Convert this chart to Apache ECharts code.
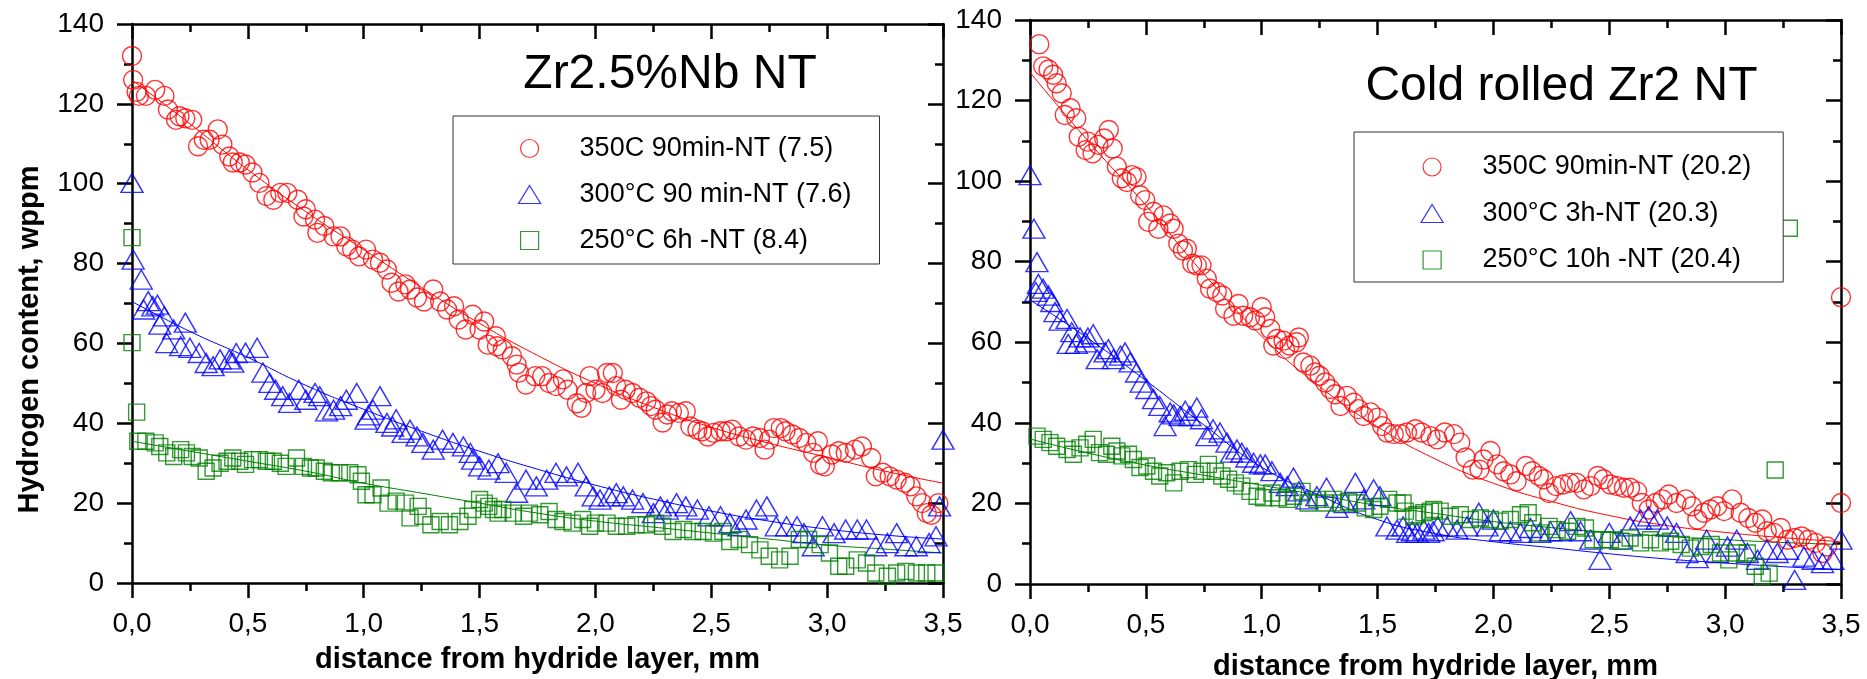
<!DOCTYPE html>
<html><head><meta charset="utf-8">
<script src="https://cdn.jsdelivr.net/npm/echarts@6/dist/echarts.min.js"></script>
<style>html,body{margin:0;padding:0;background:#fff}#c{width:1867px;height:679px}</style>
</head><body><div id="c"></div>
<script>
// ---------- text ----------
const xTickLabels = ['0,0','0,5','1,0','1,5','2,0','2,5','3,0','3,5'];
const yTickLabels = ['0','20','40','60','80','100','120','140'];
const leftTitle = 'Zr2.5%Nb NT';
const rightTitle = 'Cold rolled Zr2 NT';
const xAxisTitle = 'distance from hydride layer, mm';
const yAxisTitle = 'Hydrogen content, wppm';
const leftNames = ['350C 90min-NT (7.5)', '300°C 90 min-NT (7.6)', '250°C 6h -NT (8.4)'];
const rightNames = ['350C 90min-NT (20.2)', '300°C 3h-NT (20.3)', '250°C 10h -NT (20.4)'];

// ---------- data: [distance mm, hydrogen wppm] ----------
const left350 = [[0,132],[0.005,126],[0.02,123],[0.03,122],[0.06,122],[0.1,123.5],[0.14,122],[0.155,118.6],[0.19,116],[0.205,116.9],[0.23,116.4],[0.26,116],[0.285,109.4],[0.31,111],[0.335,111],[0.37,113.6],[0.39,109.8],[0.42,106.8],[0.435,105.3],[0.465,105.3],[0.49,104.8],[0.52,102.8],[0.55,100.2],[0.58,96.9],[0.61,96],[0.64,97.7],[0.67,97.7],[0.715,96],[0.74,91.8],[0.75,93.6],[0.79,91],[0.8,87.7],[0.83,89.4],[0.87,86.8],[0.9,86.8],[0.925,84.3],[0.95,83.5],[0.98,81.8],[1.01,83.5],[1.04,81],[1.07,80.2],[1.1,78.5],[1.12,75.2],[1.15,73],[1.18,74.8],[1.2,73.5],[1.23,71.5],[1.26,70.5],[1.3,73.5],[1.33,70.5],[1.36,68.5],[1.39,69.3],[1.41,66],[1.44,63.5],[1.47,67.2],[1.5,63.5],[1.52,65.5],[1.535,59.7],[1.57,61.8],[1.575,59.3],[1.6,58.5],[1.64,56.8],[1.66,54.7],[1.67,52.7],[1.7,49.7],[1.74,51.8],[1.77,51.8],[1.8,50.1],[1.83,49.3],[1.86,51],[1.88,48.4],[1.92,45],[1.94,43.9],[1.96,47.6],[1.975,51.8],[2.0,48.4],[2.03,47.6],[2.05,52.6],[2.075,52.6],[2.09,49.3],[2.11,45.9],[2.13,48.4],[2.16,47.6],[2.19,46.4],[2.22,45.5],[2.24,44.3],[2.26,43.4],[2.29,40.2],[2.31,42.2],[2.33,43],[2.36,42.6],[2.39,43],[2.41,39.2],[2.44,38.4],[2.46,38],[2.485,36.7],[2.51,37.6],[2.54,38],[2.565,38],[2.59,38.4],[2.62,36.7],[2.65,35.9],[2.68,36.7],[2.71,36.3],[2.73,33.4],[2.75,35.9],[2.77,38.8],[2.8,38.8],[2.82,38],[2.85,37.2],[2.88,36.3],[2.91,35.1],[2.94,32.6],[2.96,35.5],[2.97,29.6],[2.99,29.2],[3.02,32.2],[3.05,33],[3.08,32.6],[3.12,33.4],[3.15,34.2],[3.19,31.3],[3.21,26.7],[3.24,27.6],[3.27,26.7],[3.3,25.9],[3.335,25.1],[3.36,24.2],[3.385,21.7],[3.41,20],[3.43,17.5],[3.45,17.1],[3.48,20]];
const left300 = [[0,100.2],[0.005,81],[0.04,76],[0.05,68.5],[0.07,70.6],[0.09,69.3],[0.11,69.7],[0.12,64.7],[0.14,66.8],[0.15,60.1],[0.18,63.5],[0.21,59.3],[0.23,65.2],[0.25,58.9],[0.29,57.6],[0.32,55.1],[0.35,54.3],[0.38,56],[0.42,56],[0.435,55.2],[0.45,57.6],[0.49,57.7],[0.54,58.9],[0.565,52.7],[0.595,50.1],[0.62,48.4],[0.65,46.8],[0.68,45.1],[0.72,48.4],[0.75,45.9],[0.79,47.6],[0.81,46.8],[0.84,43],[0.87,43.4],[0.9,44.3],[0.925,45.9],[0.97,47.6],[1.01,40.9],[1.02,42],[1.04,43.4],[1.07,46.8],[1.1,40.1],[1.125,39.2],[1.14,41],[1.17,37.6],[1.2,38.4],[1.23,36.7],[1.255,35.1],[1.3,33.4],[1.34,35.9],[1.385,35.1],[1.43,34.2],[1.46,32.6],[1.47,30.9],[1.5,29.2],[1.54,28.4],[1.58,30],[1.615,27.6],[1.66,22.6],[1.7,25.9],[1.745,24.2],[1.79,25.9],[1.83,27.6],[1.875,26.7],[1.925,27.6],[1.96,24.2],[1.99,21.7],[2.02,20.9],[2.06,21.7],[2.09,22.5],[2.12,21.7],[2.16,20.9],[2.205,20],[2.25,17.5],[2.28,19.2],[2.31,18.4],[2.35,20],[2.39,19.2],[2.44,18.4],[2.49,16.7],[2.54,16.7],[2.58,15],[2.62,14.2],[2.65,15.9],[2.695,18.4],[2.74,19.2],[2.78,14.2],[2.825,14.2],[2.87,14.2],[2.9,12.5],[2.94,9.2],[2.98,14.2],[3.03,12.5],[3.08,13.4],[3.13,13.4],[3.17,13.4],[3.21,9.2],[3.26,10],[3.3,12.5],[3.34,9.2],[3.385,9.2],[3.44,10],[3.47,11.7],[3.485,19.2],[3.5,35.9]];
const left250 = [[0,86.5],[0,60.2],[0.02,42.8],[0.025,35.5],[0.06,35.5],[0.1,35.1],[0.12,34.2],[0.15,32.6],[0.18,31.7],[0.21,33.4],[0.235,32.6],[0.26,31.7],[0.29,31.3],[0.32,28],[0.35,28.8],[0.38,30],[0.41,30.5],[0.435,31.3],[0.465,30.5],[0.49,29.7],[0.52,30.9],[0.55,30.9],[0.58,30.5],[0.61,30.5],[0.64,30],[0.665,29.2],[0.71,31.3],[0.74,29.2],[0.77,28.8],[0.795,28.8],[0.83,28],[0.86,27.6],[0.895,27.6],[0.94,27.6],[0.975,27.1],[0.99,25.5],[1.01,22.1],[1.04,22.1],[1.075,23.8],[1.105,20],[1.14,20.5],[1.18,20],[1.2,16.3],[1.235,19.2],[1.255,16.7],[1.29,14.6],[1.33,15.4],[1.37,14.6],[1.415,15.4],[1.45,16.7],[1.47,18.4],[1.5,20.9],[1.52,20],[1.54,19.2],[1.56,18.4],[1.58,17.5],[1.6,18.4],[1.645,17.5],[1.69,16.7],[1.715,17.5],[1.76,17.1],[1.8,17.9],[1.83,15.9],[1.86,15.4],[1.9,15],[1.945,15.9],[1.975,14.2],[2.0,15],[2.05,15],[2.09,14.2],[2.135,14.2],[2.175,14.6],[2.22,14.6],[2.26,15],[2.29,14.2],[2.335,12.9],[2.38,13.4],[2.42,12.9],[2.465,12.9],[2.51,12.5],[2.55,12.9],[2.58,10.4],[2.62,10.9],[2.665,9.6],[2.71,8.3],[2.75,6.7],[2.795,5.8],[2.84,6.7],[2.88,10.9],[2.92,10.9],[2.97,9.6],[3.01,7.5],[3.05,4.2],[3.08,4.2],[3.13,5.8],[3.17,5],[3.21,2.5],[3.26,1.7],[3.3,2.5],[3.34,2.9],[3.385,2.5],[3.43,2.5],[3.47,2.5]];

const right350 = [[0.04,134],[0.057,128.5],[0.08,127.7],[0.1,126.4],[0.115,124.3],[0.137,121.8],[0.15,116.4],[0.175,118.1],[0.2,115.6],[0.21,111],[0.24,107.7],[0.25,109.8],[0.27,106.9],[0.295,109],[0.32,110.6],[0.34,112.7],[0.357,108.1],[0.375,103.6],[0.396,100.7],[0.418,99.8],[0.44,101.5],[0.46,101],[0.475,96.5],[0.497,95.3],[0.51,89.9],[0.533,92.4],[0.554,88.2],[0.576,91.5],[0.605,89.5],[0.62,88.2],[0.64,84.5],[0.66,82.8],[0.677,83.2],[0.7,79.5],[0.72,79.1],[0.74,79.1],[0.763,75.8],[0.777,73.3],[0.806,72.5],[0.83,71.6],[0.842,68.3],[0.878,66.6],[0.9,69.5],[0.92,66.6],[0.95,66.2],[0.972,65.4],[1.0,68.7],[1.015,66.2],[1.037,63.3],[1.05,59.2],[1.066,60.8],[1.094,60.4],[1.1,58.3],[1.12,59.2],[1.15,60],[1.16,61.2],[1.18,55],[1.21,54.2],[1.23,52.5],[1.25,51.7],[1.274,50],[1.296,48.4],[1.317,47.1],[1.34,44.2],[1.368,46.7],[1.397,45],[1.418,43.4],[1.44,41.7],[1.47,42.6],[1.5,41.3],[1.52,39.2],[1.54,37.6],[1.57,37.2],[1.6,37.2],[1.627,37.6],[1.663,38.4],[1.69,37.6],[1.728,36.7],[1.757,35.9],[1.79,37.6],[1.83,37.2],[1.857,35.1],[1.88,31.4],[1.91,28.4],[1.94,28.4],[1.957,30.9],[1.987,33],[2.016,29.7],[2.044,28],[2.073,27.2],[2.1,25.5],[2.14,29.3],[2.167,28],[2.196,26.8],[2.217,26],[2.24,22.6],[2.27,24.3],[2.3,24.7],[2.33,25.1],[2.36,25.1],[2.39,23.5],[2.42,24.3],[2.45,26.8],[2.475,26],[2.505,24.7],[2.534,24.3],[2.563,23.9],[2.59,23.9],[2.62,23],[2.64,20.1],[2.67,18.5],[2.7,20.1],[2.73,21],[2.757,22.2],[2.79,20.1],[2.83,21],[2.857,19.3],[2.88,16],[2.908,17.7],[2.937,18.5],[2.966,19.3],[2.995,18.1],[3.03,21],[3.067,17.7],[3.1,16.4],[3.13,15.2],[3.16,16],[3.18,13.1],[3.21,12.7],[3.24,13.9],[3.27,11],[3.3,11.4],[3.33,11.8],[3.36,11],[3.39,10.2],[3.42,7.7],[3.44,9.3],[3.5,20.1],[3.5,71.2]];
const right300 = [[0,101.5],[0.017,88.2],[0.025,72.5],[0.03,79.9],[0.036,74.5],[0.057,73.3],[0.08,71.6],[0.094,70],[0.108,67.5],[0.13,65.4],[0.16,65.8],[0.165,59.6],[0.18,62.5],[0.2,59.6],[0.216,61.2],[0.24,60],[0.25,61.2],[0.273,62],[0.29,55.8],[0.324,57.5],[0.338,58.3],[0.36,55.8],[0.39,56.7],[0.41,57.5],[0.432,55],[0.46,52.5],[0.48,50],[0.504,48.4],[0.533,45.9],[0.56,44.2],[0.583,39.2],[0.605,42.6],[0.62,42.1],[0.648,41.7],[0.67,43],[0.69,41.7],[0.72,43.8],[0.74,40.9],[0.763,36.7],[0.79,38.4],[0.82,37.6],[0.85,35.1],[0.87,32.6],[0.893,33.4],[0.914,32.6],[0.936,31.4],[0.965,30.1],[0.994,29.7],[1.015,29.7],[1.044,28],[1.08,25.1],[1.11,24.3],[1.137,26.4],[1.16,23],[1.195,21],[1.238,21.8],[1.28,23.9],[1.324,18.9],[1.36,20.1],[1.404,25.1],[1.44,21],[1.483,23.5],[1.51,21.8],[1.54,14.3],[1.584,13.5],[1.61,14.3],[1.63,12.7],[1.65,13.1],[1.67,12.7],[1.7,13.5],[1.72,12.7],[1.74,13.1],[1.76,14.3],[1.8,14.3],[1.843,13.5],[1.886,14.3],[1.937,17.7],[1.973,14.3],[2.0,16],[2.03,13.1],[2.073,13.1],[2.117,12.7],[2.16,13.9],[2.2,12.7],[2.246,13.1],[2.29,13.1],[2.333,15.6],[2.376,13.1],[2.42,11],[2.46,6],[2.5,12.7],[2.55,11],[2.59,14.3],[2.635,16],[2.67,16.8],[2.707,16],[2.75,14.3],[2.79,12.7],[2.836,7.7],[2.88,6.4],[2.92,11],[2.966,7.7],[3.01,9.3],[3.05,11],[3.096,7.7],[3.14,6],[3.18,8.5],[3.225,7.7],[3.27,8.5],[3.3,1],[3.34,6.8],[3.38,6],[3.42,5.2],[3.465,6],[3.5,11]];
const right250 = [[0.03,36.7],[0.057,35.9],[0.086,35.1],[0.115,34.2],[0.16,33.4],[0.187,32.2],[0.216,33.8],[0.245,34.7],[0.273,35.9],[0.3,32.6],[0.33,32.2],[0.353,34.2],[0.375,33],[0.396,31.8],[0.425,32.2],[0.446,30.9],[0.475,28.9],[0.504,29.3],[0.533,28],[0.56,26.8],[0.59,27.6],[0.62,25.1],[0.648,28],[0.684,28.4],[0.713,27.2],[0.742,28],[0.77,29.7],[0.8,28],[0.828,26.8],[0.857,26],[0.886,25.1],[0.914,24.3],[0.95,23],[0.98,21.8],[1.008,21.4],[1.044,22.6],[1.073,21.4],[1.11,21],[1.137,21.8],[1.174,23],[1.2,20.1],[1.238,21],[1.274,20.1],[1.31,21],[1.34,20.1],[1.375,20.5],[1.41,20.1],[1.447,18.9],[1.483,18.5],[1.51,19.3],[1.548,21],[1.584,20.1],[1.61,20.1],[1.62,18.1],[1.656,16.8],[1.67,17.2],[1.7,17.7],[1.728,18.1],[1.742,18.5],[1.77,18.1],[1.814,16.8],[1.857,17.2],[1.9,16],[1.944,16.4],[1.987,16],[2.03,15.6],[2.073,16],[2.117,17.2],[2.15,17.7],[2.17,15.2],[2.2,12.7],[2.24,14.3],[2.275,13.5],[2.32,13.1],[2.36,14.3],[2.397,13.9],[2.43,11],[2.47,11],[2.505,11],[2.55,10.6],[2.59,11.4],[2.635,10.2],[2.678,11],[2.72,10.2],[2.765,10.6],[2.81,9.8],[2.85,8.9],[2.894,9.3],[2.94,9.8],[2.98,7.7],[3.016,6],[3.05,7.7],[3.096,7.7],[3.13,4.4],[3.16,1.9],[3.19,2.7],[3.216,28.3],[3.277,88.3]];

// ---------- fitted curves ----------
const fitX = [0,0.25,0.5,0.75,1.0,1.25,1.5,1.75,2.0,2.25,2.5,2.75,3.0,3.25,3.5];
const left350Fit  = [126,115,103.5,93,83.5,74,65,57,50,44,39,35,31.5,28,25];
const left300Fit  = [70.5,63,56.5,49.5,43.5,38,33,28.5,24.5,21,18,15.5,13.5,12,11];
const left250Fit  = [35.5,33,30.5,28,25,22.5,20,17.5,15.5,14,12.5,11,9.5,8.5,7.5];
const right350Fit = [127,110,94,77,61.5,49,39,31,25,20.5,17,14.5,12.8,11.5,10.5];
const right300Fit = [70.5,61,50.5,39.5,29,22,16,12.5,10.5,9,7.5,6.2,5.2,4.3,3.6];
const right250Fit = [36,32.5,29.5,27,24.5,22,19.5,17.5,15.5,14,12.8,11.8,11,10.3,9.8];

// ---------- chart ----------
const FONT = "'Liberation Sans', Arial, Helvetica, sans-serif";
const RED = '#ff0000', BLUE = '#0000ff', GREEN = '#008000';
const AX = '#000';
const chart = echarts.init(document.getElementById('c'), null, {renderer: 'canvas'});

function xAxisDef(grid, pos, extra) {
  return Object.assign({
    type: 'value', gridIndex: grid, position: pos, min: 0, max: 3.5, interval: 0.5,
    axisLine: {show: true, onZero: false, lineStyle: {color: AX, width: 2.5}},
    axisTick: {show: true, inside: pos === 'top', length: 15, lineStyle: {color: AX, width: 2.5}},
    minorTick: {show: true, splitNumber: 2, length: 8, lineStyle: {color: AX, width: 2.5}},
    splitLine: {show: false}, minorSplitLine: {show: false},
    axisLabel: {show: pos === 'bottom', margin: 27, fontSize: 28, fontFamily: FONT, color: '#000',
      formatter: v => xTickLabels[Math.round(v / 0.5)]},
    nameMoveOverlap: false
  }, extra || {});
}
function yAxisDef(grid, pos, extra) {
  return Object.assign({
    type: 'value', gridIndex: grid, position: pos, min: 0, max: 140, interval: 20,
    axisLine: {show: true, onZero: false, lineStyle: {color: AX, width: 2.5}},
    axisTick: {show: true, inside: pos === 'right', length: 15, lineStyle: {color: AX, width: 2.5}},
    minorTick: {show: true, splitNumber: 2, length: 8, lineStyle: {color: AX, width: 2.5}},
    splitLine: {show: false}, minorSplitLine: {show: false},
    axisLabel: {show: pos === 'left', margin: 28, fontSize: 28, fontFamily: FONT, color: '#000',
      formatter: v => yTickLabels[Math.round(v / 20)]},
    nameMoveOverlap: false
  }, extra || {});
}
const axisNameStyle = {fontSize: 29, fontWeight: 'bold', fontFamily: FONT, color: '#000'};

function scatter(name, data, symbol, size, color, g) {
  return {type: 'scatter', name, data, xAxisIndex: g * 2, yAxisIndex: g * 2,
    symbol, symbolSize: size, clip: true, z: 2, silent: true,
    itemStyle: {color: 'rgba(0,0,0,0)', borderColor: color, borderWidth: 1.4},
    emphasis: {disabled: true}};
}
function fitLine(ys, color, g) {
  return {type: 'line', data: fitX.map((x, i) => [x, ys[i]]), xAxisIndex: g * 2, yAxisIndex: g * 2,
    smooth: true, showSymbol: false, symbol: 'none', clip: true, z: 2, silent: true,
    lineStyle: {color, width: 1}, emphasis: {disabled: true}};
}
const SQUARE = 'path://M0,0L10,0L10,10L0,10Z';
function legendDef(names, left, top, gap, padding, textPad) {
  return {
    orient: 'vertical', left, top, itemWidth: 22, itemHeight: 18, itemGap: gap, padding,
    data: [{name: names[0], icon: 'circle'}, {name: names[1], icon: 'triangle'}, {name: names[2], icon: SQUARE}],
    borderColor: '#333', borderWidth: 1, backgroundColor: '#fff', selectedMode: false, z: 10,
    itemStyle: {borderWidth: 1.2},
    textStyle: {fontSize: 27, lineHeight: 27, fontFamily: FONT, color: '#000', padding: [0, 0, 0, textPad]}
  };
}

chart.setOption({
  animation: false,
  backgroundColor: '#fff',
  grid: [
    {left: 132, top: 24, width: 811, height: 559, outerBoundsMode: 'none', containLabel: false},
    {left: 1030, top: 20, width: 811, height: 564, outerBoundsMode: 'none', containLabel: false}
  ],
  xAxis: [
    xAxisDef(0, 'bottom', {name: xAxisTitle, nameLocation: 'middle', nameGap: 62, nameTextStyle: axisNameStyle}),
    xAxisDef(0, 'top'),
    xAxisDef(1, 'bottom', {name: xAxisTitle, nameLocation: 'middle', nameGap: 68, nameTextStyle: axisNameStyle}),
    xAxisDef(1, 'top')
  ],
  yAxis: [
    yAxisDef(0, 'left', {name: yAxisTitle, nameLocation: 'middle', nameRotate: 90, nameGap: 88,
      nameTextStyle: Object.assign({padding: [0, 72, 0, 0]}, axisNameStyle)}),
    yAxisDef(0, 'right'),
    yAxisDef(1, 'left'),
    yAxisDef(1, 'right')
  ],
  legend: [
    legendDef(leftNames, 453, 116, 19, [19, 28, 10, 65], 34),
    legendDef(rightNames, 1354, 132, 19.5, [21.5, 32, 8.5, 66.5], 34.5)
  ],
  graphic: [
    {type: 'text', x: 670, y: 74.5, z: 20, silent: true,
     style: {text: leftTitle, fontSize: 48, fontFamily: FONT, fill: '#000', align: 'center', verticalAlign: 'middle', textAlign: 'center', textVerticalAlign: 'middle'}},
    {type: 'text', x: 1561.5, y: 86.5, z: 20, silent: true,
     style: {text: rightTitle, fontSize: 48, fontFamily: FONT, fill: '#000', align: 'center', verticalAlign: 'middle', textAlign: 'center', textVerticalAlign: 'middle'}}
  ],
  series: [
    fitLine(left350Fit, RED, 0), fitLine(left300Fit, BLUE, 0), fitLine(left250Fit, GREEN, 0),
    fitLine(right350Fit, RED, 1), fitLine(right300Fit, BLUE, 1), fitLine(right250Fit, GREEN, 1),
    scatter(leftNames[0], left350, 'circle', 19, RED, 0),
    scatter(leftNames[1], left300, 'triangle', [22, 19], BLUE, 0),
    scatter(leftNames[2], left250, 'rect', 16, GREEN, 0),
    scatter(rightNames[0], right350, 'circle', 19, RED, 1),
    scatter(rightNames[1], right300, 'triangle', [22, 19], BLUE, 1),
    scatter(rightNames[2], right250, 'rect', 16, GREEN, 1)
  ]
});
</script></body></html>
